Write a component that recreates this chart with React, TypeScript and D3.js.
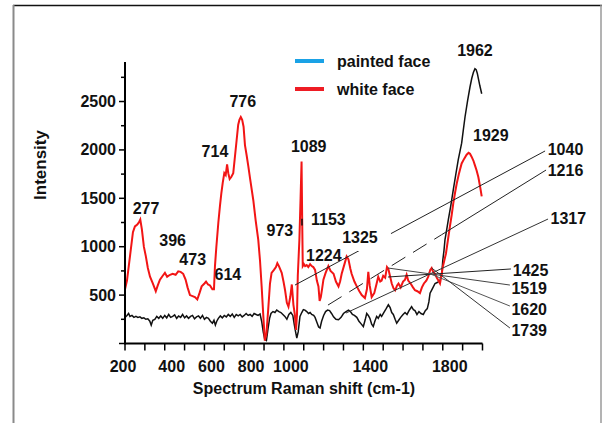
import React from "react";
import * as d3 from "d3";

// ---- data ----
const redX = [200,210,225,240,250,262,270,277,285,295,305,315,326,340,355,365,376,390,401,412,427,440,455,468,480,493,505,515,527,540,552,564,575,586,600,608,618,628,640,648,653,660,670,678,685,692,700,707,714,720,727,735,745,752,762,770,776,783,790,797,804,812,821,830,846,858,871,880,888,896,904,912,921,930,938,950,960,967,975,989,998,1006,1015,1023,1032,1040,1048,1055,1061,1066,1070,1078,1084,1089,1092,1095,1101,1107,1115,1123,1132,1140,1148,1157,1166,1174,1180,1186,1192,1199,1210,1224,1235,1250,1262,1275,1283,1291,1305,1316,1325,1335,1341,1355,1367,1380,1392,1408,1418,1425,1432,1442,1455,1467,1475,1485,1492,1500,1510,1519,1526,1534,1543,1552,1560,1570,1577,1588,1600,1610,1618,1626,1638,1650,1660,1672,1685,1695,1705,1717,1727,1737,1744,1752,1761,1770,1778,1786,1793,1800,1808,1816,1826,1836,1845,1853,1862,1870,1882,1895,1908,1920,1930,1937,1945,1954,1962,1970,1979,1988,1996];
const redY = [560,650,900,1150,1210,1230,1250,1280,1180,1000,900,780,690,620,540,600,660,700,730,690,710,720,710,745,740,720,660,580,500,490,480,455,520,590,620,640,610,600,560,560,800,1000,1250,1420,1550,1660,1760,1740,1850,1760,1700,1720,1760,1900,2100,2260,2310,2340,2310,2240,2050,1950,1830,1700,1480,1270,1070,850,590,300,30,100,350,620,730,760,790,830,800,730,640,550,420,380,480,610,400,300,140,300,700,1070,1500,1880,1300,800,820,800,810,790,820,800,790,760,650,590,440,480,560,660,730,800,750,720,640,590,640,720,820,900,870,770,720,640,590,540,500,470,560,740,600,480,520,620,690,640,650,700,680,790,770,700,620,570,550,600,620,580,640,660,710,650,620,580,550,540,520,580,620,650,690,760,780,740,720,680,650,620,700,790,860,930,1070,1210,1330,1450,1560,1650,1760,1860,1910,1950,1970,1960,1930,1890,1840,1790,1720,1620,1520];

const blackX = [200,210,218,225,235,245,255,265,275,285,295,305,315,325,332,340,350,360,370,380,390,400,410,420,430,440,450,460,470,480,490,500,510,520,530,540,550,560,570,580,590,600,610,620,630,640,648,655,662,670,680,690,700,710,720,730,740,750,760,770,780,790,800,810,820,830,840,850,860,870,880,888,896,904,912,920,928,935,945,955,964,975,985,995,1005,1015,1025,1035,1045,1052,1058,1065,1072,1081,1090,1098,1106,1115,1124,1132,1140,1150,1157,1166,1175,1182,1190,1200,1210,1220,1230,1240,1250,1262,1275,1288,1300,1313,1325,1335,1345,1355,1367,1378,1390,1400,1410,1417,1425,1433,1442,1450,1458,1467,1475,1485,1492,1503,1515,1526,1535,1543,1551,1560,1568,1578,1588,1600,1610,1620,1630,1643,1652,1660,1670,1680,1690,1702,1712,1722,1730,1736,1746,1761,1772,1786,1795,1800,1806,1811,1820,1828,1840,1853,1865,1878,1886,1895,1903,1912,1925,1937,1946,1954,1962,1968,1974,1979,1987,1996];
const blackY = [270,290,310,280,290,270,280,270,275,260,265,250,255,230,190,240,250,280,260,285,260,290,265,300,270,280,295,260,285,270,300,265,285,260,280,290,255,275,285,260,290,250,270,260,230,210,240,190,230,260,285,265,290,275,300,280,305,270,300,285,300,275,290,310,290,300,280,310,300,290,305,230,120,40,30,150,260,310,330,320,345,330,320,300,280,250,300,320,290,200,130,55,120,280,320,350,345,330,310,320,300,290,270,220,170,160,230,290,330,345,340,310,275,250,245,270,310,330,345,330,300,290,270,230,200,175,250,310,290,260,200,175,230,280,260,300,280,320,360,400,370,320,300,250,210,240,270,300,320,300,340,380,350,340,300,330,310,300,340,360,430,520,560,620,630,650,720,860,960,1070,1180,1280,1420,1590,1740,1900,1980,2070,2200,2340,2510,2650,2740,2800,2840,2830,2790,2740,2660,2580];

const xTicks = d3.range(200, 2001, 100);
const xTickLabels = [200, 400, 600, 800, 1000, 1400, 1800];
const yTicks = d3.range(0, 2751, 250);
const yTickLabels = [500, 1000, 1500, 2000, 2500];

const seriesNames = ["painted face", "white face"];
const seriesColors = ["#1aa2e6", "#ee1c24"];

// peak labels (data coordinates of label centre)
const labelText = ["1962","776","714","1089","277","396","473","614","973","1153","1224","1325","1929","1040","1216","1317","1425","1519","1620","1739"];
const labelX = [1962,793,653,1125,306,440,541,718,980,1224,1201,1383,2042,2418,2418,2432,2242,2235,2235,2235];
const labelY = [3032,2505,1981,2037,1397,1069,863,708,1165,1276,904,1100,2154,2002,1792,1293,759,570,353,139];

// leader lines (data coordinates)
const leaderX1 = [1056,1222,1313,1524,1524,1726,1744];
const leaderY1 = [604,397,315,687,780,728,780];
const leaderX2 = [2315,2320,2330,2143,2138,2138,2138];
const leaderY2 = [1989,1792,1286,770,604,387,160];
const leaderColor = ["#222","#222","#333","#222","#444","#555","#333"];
const leaderDashTo = [0,0.52,0,0,0,0,0];

const font = "'Liberation Sans', Arial, sans-serif";

export default function App() {
  const x = d3.scaleLinear().domain([200, 2000]).range([125, 482.5]);
  const y = d3.scaleLinear().domain([0, 2900]).range([343.5, 62.8]);
  const line = d3.line<[number, number]>().x(d => x(d[0])).y(d => y(d[1]));
  const red = line(redX.map((v, i) => [v, redY[i]]) as [number, number][]) || "";
  const black = line(blackX.map((v, i) => [v, blackY[i]]) as [number, number][]) || "";

  const leaders = leaderX1.map((_, i) => {
    const ax = x(leaderX1[i]), ay = y(leaderY1[i]);
    const bx = x(leaderX2[i]), by = y(leaderY2[i]);
    const t = leaderDashTo[i];
    if (t > 0) {
      const mx = ax + (bx - ax) * t, my = ay + (by - ay) * t;
      return (
        <g key={i} stroke={leaderColor[i]} strokeWidth={1}>
          <line x1={ax} y1={ay} x2={mx} y2={my} strokeDasharray="16,9" />
          <line x1={mx} y1={my} x2={bx} y2={by} />
        </g>
      );
    }
    return <line key={i} x1={ax} y1={ay} x2={bx} y2={by} stroke={leaderColor[i]} strokeWidth={1} />;
  });

  const i1325 = labelText.indexOf("1325");

  return (
    <svg width={602} height={423} style={{ position: "absolute", left: 0, top: 0, background: "#fff" }}
      fontFamily={font}>
      <rect x={0} y={0} width={602} height={423} fill="#fff" />
      {/* frame */}
      <line x1={13} y1={5.5} x2={602} y2={5.5} stroke="#111" strokeWidth={1.5} />
      <line x1={13.5} y1={5} x2={13.5} y2={423} stroke="#8a8a8a" strokeWidth={2} />
      <line x1={601} y1={5} x2={601} y2={423} stroke="#9a9a9a" strokeWidth={1.5} />

      {/* curves */}
      <path d={black} fill="none" stroke="#111" strokeWidth={1.5} />
      <path d={red} fill="none" stroke="#f21515" strokeWidth={2} />

      {/* leaders */}
      {leaders}
      <line x1={x(1091)} y1={y(1290)} x2={x(1091)} y2={y(1218)} stroke="#111" strokeWidth={1.5} />
      <rect x={x(labelX[i1325]) - 20} y={y(labelY[i1325]) - 11} width={51} height={25} fill="#fff" />

      {/* axes */}
      <line x1={125} y1={y(0)} x2={482.5} y2={y(0)} stroke="#000" strokeWidth={2} />
      <line x1={125} y1={62} x2={125} y2={y(0) + 1} stroke="#000" strokeWidth={2} />
      {xTicks.map(v => (
        <line key={"xt" + v} x1={x(v)} x2={x(v)} y1={y(0)} y2={y(0) + 7} stroke="#000" strokeWidth={1.5} />
      ))}
      {xTickLabels.map(v => (
        <text key={"xl" + v} x={x(v)} dx={v === 200 ? -2 : 7} y={371.5} textAnchor="middle"
          fontSize={16} fontWeight="bold" fill="#111">{v}</text>
      ))}
      {yTicks.map(v => (
        <line key={"yt" + v} x1={125} x2={125 - (v % 500 === 0 ? 6 : 4)} y1={y(v)} y2={y(v)} stroke="#000" strokeWidth={1.5} />
      ))}
      {yTickLabels.map(v => (
        <text key={"yl" + v} x={116} y={y(v)} textAnchor="end" dominantBaseline="central"
          fontSize={16} fontWeight="bold" fill="#111">{v}</text>
      ))}
      <text x={304} y={394} textAnchor="middle" fontSize={16} fontWeight="bold" fill="#111">
        Spectrum Raman shift (cm-1)
      </text>
      <text transform="translate(40,165) rotate(-90)" textAnchor="middle" dominantBaseline="central"
        fontSize={17} fontWeight="bold" fill="#111">Intensity</text>

      {/* peak labels */}
      {labelText.map((t, i) => (
        <text key={"pl" + i} x={x(labelX[i])} y={y(labelY[i])} textAnchor="middle" dominantBaseline="central"
          fontSize={16} fontWeight="bold" fill="#111">{t}</text>
      ))}

      {/* legend */}
      {seriesNames.map((n, i) => (
        <g key={n}>
          <line x1={295} x2={324} y1={61 + i * 28} y2={61 + i * 28} stroke={seriesColors[i]} strokeWidth={4} />
          <text x={337} y={66.5 + i * 28} fontSize={16} fontWeight="bold" fill="#111">{n}</text>
        </g>
      ))}
    </svg>
  );
}
